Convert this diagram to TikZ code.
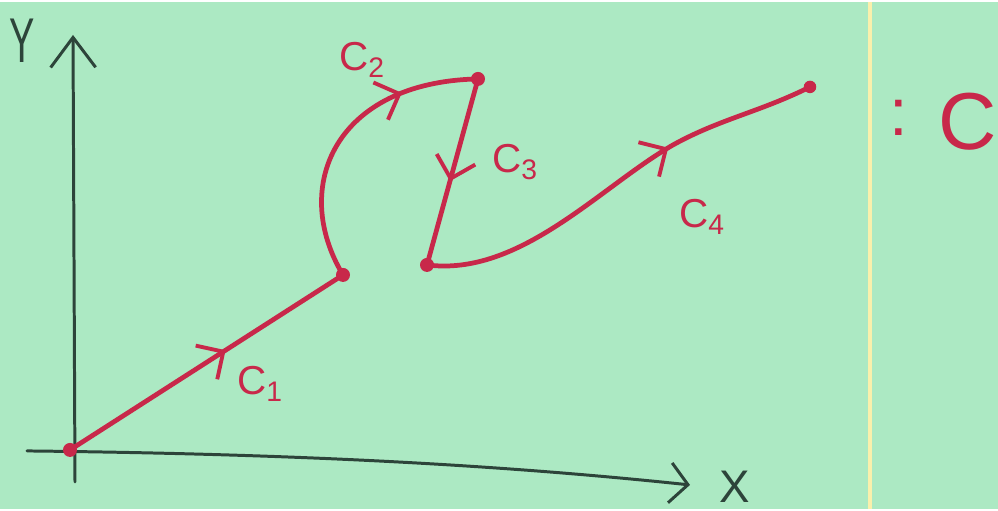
\documentclass[tikz,border=0pt]{standalone}
\usepackage{fontspec}
\setmainfont{Liberation Sans}
\usetikzlibrary{arrows.meta,decorations.markings}
\definecolor{paper}{RGB}{172,233,195}
\definecolor{ink}{RGB}{200,40,74}
\definecolor{pencil}{RGB}{45,68,58}
\definecolor{seam}{RGB}{250,240,172}
\begin{document}
\begin{tikzpicture}[x=0.02cm,y=-0.02cm,
  dot/.style={circle,fill=ink,inner sep=0pt,minimum size=0.28cm},
  curve/.style={draw=ink,line width=2.7pt,line cap=round},
  axis/.style={draw=pencil,line width=1.7pt,line cap=round},
  midarrow/.style={postaction={decorate},decoration={markings,
     mark=at position #1 with {\arrow[ink,line width=2.2pt]{Straight Barb[length=4mm,width=8mm]}}}},
  lbl/.style={text=ink,font=\fontsize{23}{25}\selectfont,inner sep=0pt},
  axlbl/.style={text=pencil,inner sep=0pt}]
\fill[paper] (0,0) rectangle (998,507);
\draw[seam,line width=2.2pt] (870,0) -- (870,507);
% axes
\coordinate (xs) at (27,449);
\coordinate (xe) at (690,483);
\coordinate (ys) at (75,480);
\coordinate (ye) at (73,33);
\draw[axis,-{Straight Barb[length=3.6mm,width=8mm]}] (xs) .. controls (300,452) and (500,463) .. (xe);
\draw[axis,-{Straight Barb[length=6mm,width=9mm]}] (ys) -- (ye);
\node[axlbl,font=\fontsize{36}{38}\selectfont] (ylab) at (22,39) {\scalebox{0.6}[1]{Y}};
\node[axlbl,font=\fontsize{26}{28}\selectfont] (xlab) at (735,485) {X};
% points
\node[dot] (p0) at (70,448) {};
\node[dot] (p1) at (343,273) {};
\node[dot] (p2) at (478,77) {};
\node[dot] (p3) at (427,263) {};
\node[dot,minimum size=0.25cm] (p4) at (810,85) {};
% curves
\draw[curve,midarrow=0.57] (p0.center) -- (p1.center);
\draw[curve,midarrow=0.74] (p1.center) .. controls (290,185) and (335,80) .. (p2.center);
\draw[curve,midarrow=0.55] (p2.center) -- (p3.center);
\draw[curve,midarrow=0.64] (p3.center) .. controls (520,275) and (600,185) .. (673,143) .. controls (720,117) and (760,110) .. (p4.center);
% labels
\node[lbl] (c1) at (260,382) {C\textsubscript{1}};
\node[lbl] (c2) at (362,58) {C\textsubscript{2}};
\node[lbl] (c3) at (515,160) {C\textsubscript{3}};
\node[lbl] (c4) at (702,215) {C\textsubscript{4}};
\node[text=ink,inner sep=0pt,font=\fontsize{38}{40}\selectfont] (colon) at (899,116) {:};
\node[text=ink,inner sep=0pt,font=\fontsize{46}{48}\selectfont] (cc) at (968,120) {C};
\end{tikzpicture}
\end{document}
